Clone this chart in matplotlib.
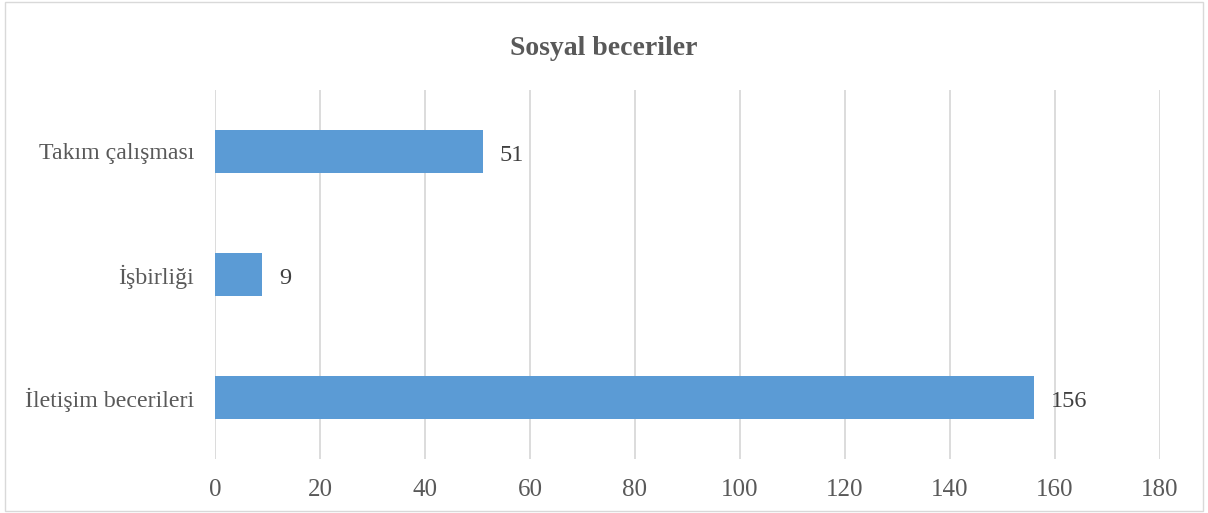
import matplotlib.pyplot as plt
from matplotlib.patches import Rectangle

categories = ["İletişim becerileri", "İşbirliği", "Takım çalışması"]
values = [156, 9, 51]
xticks = [0, 20, 40, 60, 80, 100, 120, 140, 160, 180]

plt.rcParams['font.family'] = ['Liberation Serif', 'DejaVu Serif']

fig = plt.figure(figsize=(12.08, 5.13), dpi=100)
ax = fig.add_axes([0.178, 0.105, 0.782, 0.72])

bars = ax.barh(range(len(categories)), values, height=0.35, color='#5B9BD5', zorder=3)
for b, v in zip(bars, values):
    ax.text(b.get_width() + 3.2, b.get_y() + b.get_height() / 2 - 0.03, str(v),
            va='center', ha='left', fontsize=17.5, color='#404040')

ax.set_xlim(0, 180)
ax.set_ylim(-0.5, 2.5)
ax.set_xticks(xticks)
ax.set_yticks(range(len(categories)))
ax.set_yticklabels(categories)
ax.grid(axis='x', color='#d9d9d9', linewidth=1.3, zorder=0)
for s in ax.spines.values():
    s.set_visible(False)
ax.tick_params(axis='both', length=0, labelcolor='#595959')
ax.tick_params(axis='x', pad=14, labelsize=18)
ax.tick_params(axis='y', pad=15, labelsize=17.2)

fig.suptitle("Sosyal beceriler", y=0.93, fontsize=20, fontweight='bold', color='#595959')

fig.patches.append(Rectangle((0.004, 0.004), 0.992, 0.992, transform=fig.transFigure,
                             fill=False, edgecolor='#d9d9d9', linewidth=1))

fig.savefig("out.png", dpi=100)
